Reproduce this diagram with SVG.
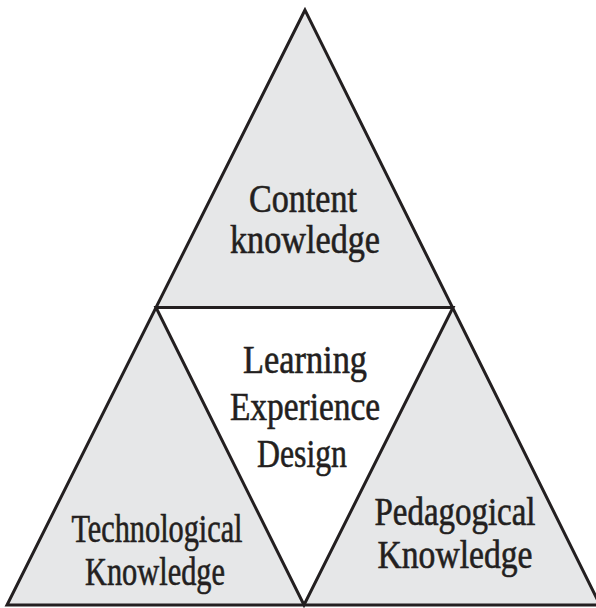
<svg xmlns="http://www.w3.org/2000/svg" width="596" height="608" viewBox="0 0 596 608">
<style>
.shape{fill:#e6e7e8;stroke:#231f20;stroke-width:3;stroke-linejoin:miter}
.inner{fill:#ffffff;stroke:#231f20;stroke-width:3}
.lbl{font-family:"Liberation Serif","Times New Roman",serif;font-size:39px;fill:#231f20;stroke:#231f20;stroke-width:0.6;text-anchor:middle}
</style>
<rect width="596" height="608" fill="#ffffff"/>
<g id="outer">
<polygon class="shape" points="305,10 7,605 600,605"/>
</g>
<g id="center">
<polygon class="inner" points="156,307.5 453,307.5 304,605"/>
<text class="lbl" x="305" y="373" textLength="124" lengthAdjust="spacingAndGlyphs">Learning</text>
<text class="lbl" x="305" y="420" textLength="150" lengthAdjust="spacingAndGlyphs">Experience</text>
<text class="lbl" x="302" y="467" textLength="90" lengthAdjust="spacingAndGlyphs">Design</text>
</g>
<g id="content">
<text class="lbl" x="303" y="212" textLength="108" lengthAdjust="spacingAndGlyphs">Content</text>
<text class="lbl" x="305" y="253" textLength="150" lengthAdjust="spacingAndGlyphs">knowledge</text>
</g>
<g id="technological">
<text class="lbl" x="157" y="542" textLength="171" lengthAdjust="spacingAndGlyphs">Technological</text>
<text class="lbl" x="155" y="585" textLength="140" lengthAdjust="spacingAndGlyphs">Knowledge</text>
</g>
<g id="pedagogical">
<text class="lbl" x="455" y="525" textLength="161" lengthAdjust="spacingAndGlyphs">Pedagogical</text>
<text class="lbl" x="455" y="568" textLength="155" lengthAdjust="spacingAndGlyphs">Knowledge</text>
</g>
</svg>
